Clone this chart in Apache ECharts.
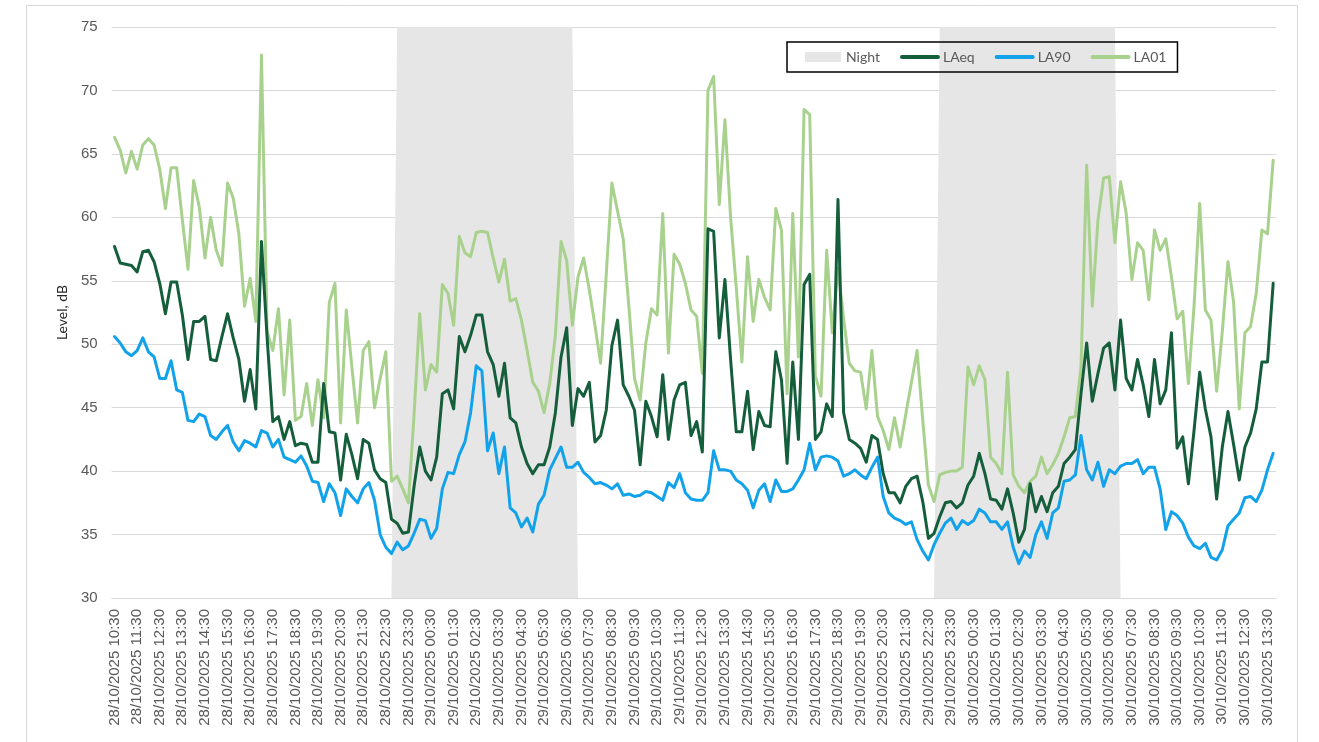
<!DOCTYPE html>
<html>
<head>
    <meta charset="utf-8">
    <title>Noise levels</title>
    <script src="https://cdn.jsdelivr.net/npm/echarts@6/dist/echarts.min.js"></script>
    <style>
      html, body { margin: 0; padding: 0; background: #fff; }
      #main { width: 1319px; height: 742px; }
    </style>
</head>
<body>
    <div id="main"></div>
    <script type="text/javascript">

// 15 minute periods from 28/10/2025 10:30 to 30/10/2025 13:45
let firstDay = 28
let firstMinute = 10 * 60 + 30
let periodCount = 206
let times = []
for (let i = 0; i < periodCount; i++) {
  let m = firstMinute + i * 15
  let day = firstDay + Math.floor(m / 1440)
  let hh = String(Math.floor((m % 1440) / 60)).padStart(2, '0')
  let mm = String(m % 60).padStart(2, '0')
  times.push(day + '/10/2025 ' + hh + ':' + mm)
}

// night periods (first and last 15 minute period of each night)
let nightPeriods = [
  ['28/10/2025 23:00', '29/10/2025 06:45'],
  ['29/10/2025 23:00', '30/10/2025 06:45']
]

let LAeq = [
  57.7, 56.4, 56.3, 56.2, 55.7, 57.3, 57.4, 56.5, 54.8, 52.4,
  54.9, 54.9, 52.3, 48.8, 51.8, 51.8, 52.2, 48.8, 48.7, 50.6,
  52.4, 50.5, 48.8, 45.5, 48.0, 44.9, 58.1, 50.5, 43.9, 44.3,
  42.5, 43.9, 42.0, 42.2, 42.1, 40.7, 40.7, 46.9, 43.1, 43.0,
  39.3, 42.9, 41.3, 39.4, 42.5, 42.2, 40.1, 39.4, 39.1, 36.2,
  35.9, 35.1, 35.2, 38.8, 41.9, 40.0, 39.3, 41.1, 46.1, 46.4,
  44.9, 50.6, 49.4, 50.7, 52.3, 52.3, 49.4, 48.4, 45.9, 48.5,
  44.2, 43.8, 41.9, 40.6, 39.8, 40.5, 40.5, 41.9, 44.6, 49.0,
  51.3, 43.6, 46.5, 45.9, 47.0, 42.3, 42.8, 44.8, 49.9, 51.9,
  46.8, 45.9, 44.8, 40.5, 45.5, 44.3, 42.7, 47.6, 42.5, 45.6,
  46.8, 47.0, 42.8, 43.9, 41.5, 59.1, 58.9, 50.5, 55.1, 48.8,
  43.1, 43.1, 46.3, 41.7, 44.7, 43.6, 43.5, 49.4, 47.2, 40.6,
  48.6, 42.5, 54.7, 55.5, 42.5, 43.1, 45.3, 44.3, 61.4, 44.6,
  42.5, 42.2, 41.8, 40.7, 42.8, 42.5, 39.8, 38.3, 38.3, 37.5,
  38.8, 39.4, 39.6, 37.6, 34.7, 35.1, 36.4, 37.5, 37.6, 37.1,
  37.5, 38.9, 39.6, 41.4, 39.8, 37.8, 37.7, 37.0, 38.6, 36.7,
  34.4, 35.4, 39.0, 36.8, 38.0, 36.8, 38.3, 38.8, 40.6, 41.1,
  41.7, 46.1, 50.1, 45.5, 47.7, 49.7, 50.1, 46.4, 51.9, 47.3,
  46.4, 48.8, 46.8, 44.3, 48.8, 45.3, 46.4, 50.9, 41.8, 42.7,
  39.0, 43.2, 47.8, 44.9, 42.7, 37.8, 41.9, 44.7, 42.1, 39.3,
  41.9, 43.0, 44.9, 48.6, 48.6, 54.8
]

let LA90 = [
  50.6, 50.1, 49.4, 49.1, 49.5, 50.5, 49.4, 49.0, 47.3, 47.3,
  48.7, 46.4, 46.2, 44.0, 43.9, 44.5, 44.3, 42.8, 42.5, 43.1,
  43.6, 42.3, 41.6, 42.4, 42.2, 41.9, 43.2, 43.0, 41.9, 42.5,
  41.1, 40.9, 40.7, 41.2, 40.4, 39.2, 39.1, 37.6, 39.0, 38.3,
  36.5, 38.6, 38.0, 37.5, 38.6, 39.1, 37.7, 35.0, 34.0, 33.5,
  34.4, 33.8, 34.1, 35.1, 36.2, 36.1, 34.7, 35.5, 38.6, 39.9,
  39.8, 41.3, 42.3, 44.6, 48.3, 47.9, 41.6, 43.0, 39.8, 41.9,
  37.1, 36.7, 35.6, 36.3, 35.2, 37.4, 38.1, 40.1, 41.0, 41.9,
  40.3, 40.3, 40.7, 39.9, 39.5, 39.0, 39.1, 38.9, 38.6, 39.0,
  38.1, 38.2, 38.0, 38.1, 38.4, 38.3, 38.0, 37.7, 39.1, 38.7,
  39.8, 38.3, 37.8, 37.7, 37.7, 38.3, 41.6, 40.1, 40.1, 40.0,
  39.3, 39.0, 38.5, 37.1, 38.5, 39.0, 37.6, 39.3, 38.4, 38.4,
  38.6, 39.3, 40.1, 42.2, 40.1, 41.1, 41.2, 41.1, 40.8, 39.6,
  39.8, 40.1, 39.7, 39.4, 40.3, 41.1, 38.0, 36.7, 36.3, 36.1,
  35.8, 36.0, 34.6, 33.7, 33.0, 34.2, 35.1, 35.9, 36.3, 35.4,
  36.1, 35.8, 36.1, 37.0, 36.7, 36.0, 36.0, 35.4, 36.0, 34.0,
  32.7, 33.7, 33.2, 35.0, 36.0, 34.7, 36.7, 37.1, 39.2, 39.3,
  39.7, 42.8, 40.1, 39.3, 40.7, 38.8, 40.1, 39.8, 40.4, 40.6,
  40.6, 40.9, 39.8, 40.3, 40.3, 38.6, 35.4, 36.8, 36.5, 35.9,
  34.8, 34.1, 33.9, 34.3, 33.2, 33.0, 33.8, 35.7, 36.2, 36.7,
  37.9, 38.0, 37.6, 38.5, 40.1, 41.4
]

let LA01 = [
  66.3, 65.3, 63.5, 65.2, 63.8, 65.7, 66.2, 65.7, 63.8, 60.7,
  63.9, 63.9, 59.8, 55.9, 62.9, 60.8, 56.8, 60.0, 57.4, 56.2,
  62.7, 61.5, 58.7, 53.0, 55.2, 51.8, 72.8, 51.0, 49.5, 52.8,
  46.0, 51.9, 44.0, 44.3, 46.9, 43.6, 47.2, 44.2, 53.3, 54.8,
  43.8, 52.7, 48.2, 43.8, 49.5, 50.2, 45.0, 47.3, 49.4, 39.2,
  39.6, 38.6, 37.5, 44.5, 52.4, 46.4, 48.4, 47.8, 54.7, 54.0,
  51.5, 58.5, 57.2, 56.9, 58.8, 58.9, 58.8, 56.8, 54.9, 56.7,
  53.4, 53.6, 51.9, 49.5, 47.0, 46.3, 44.6, 46.9, 50.7, 58.1,
  56.6, 51.5, 55.3, 56.8, 54.3, 51.5, 48.5, 55.5, 62.7, 60.5,
  58.3, 53.0, 47.3, 45.6, 50.1, 52.8, 52.3, 60.3, 49.3, 57.1,
  56.3, 54.8, 52.7, 52.2, 47.7, 70.0, 71.1, 61.0, 67.7, 60.0,
  54.5, 48.6, 56.9, 51.8, 55.1, 53.7, 52.7, 60.7, 59.0, 46.1,
  60.3, 49.0, 68.5, 68.1, 47.5, 45.9, 57.4, 50.9, 56.0, 52.0,
  48.5, 47.9, 47.8, 44.9, 49.5, 44.3, 43.2, 41.7, 44.2, 41.9,
  44.5, 47.0, 49.5, 44.0, 38.9, 37.6, 39.7, 39.9, 40.0, 40.0,
  40.3, 48.2, 46.8, 48.3, 47.2, 41.1, 40.6, 39.8, 47.8, 39.7,
  38.8, 38.3, 39.2, 39.6, 41.1, 39.8, 40.5, 41.4, 42.7, 44.2,
  44.3, 48.2, 64.1, 53.0, 59.8, 63.1, 63.2, 58.0, 62.8, 60.3,
  55.1, 58.0, 57.4, 53.5, 59.0, 57.4, 58.3, 55.3, 52.0, 52.6,
  46.9, 53.0, 61.1, 52.7, 51.9, 46.3, 51.0, 56.5, 53.3, 44.9,
  50.9, 51.4, 54.0, 59.0, 58.7, 64.5
]

let yMin = 30
let yMax = 75

// night band: full height inside the night periods, axis floor outside
let night = times.map(t => yMin)
nightPeriods.forEach(p => {
  let a = times.indexOf(p[0]), b = times.indexOf(p[1])
  for (let i = a; i <= b; i++) night[i] = yMax
})

let lineSeries = (name, data, color) => ({
  name: name,
  type: 'line',
  data: data,
  symbol: 'none',
  itemStyle: { color: color },
  lineStyle: { color: color, width: 3, join: 'round', cap: 'round' }
})

// legend entry for a line: only the stroke, no marker
let lineKey = name => ({
  name: name,
  itemStyle: { opacity: 0 },
  lineStyle: { width: 4, cap: 'round' }
})

var option = {
  animation: false,
  backgroundColor: '#fff',
  graphic: [{
    type: 'rect',
    silent: true,
    shape: { x: 26.5, y: 5.5, width: 1271, height: 745 },
    style: { fill: 'none', stroke: '#d9d9d9', lineWidth: 1 }
  }],
  legend: {
    left: 787,
    top: 42,
    data: [{ name: 'Night', icon: 'rect' }, lineKey('LAeq'), lineKey('LA90'), lineKey('LA01')],
    itemWidth: 36,
    itemHeight: 10,
    itemGap: 20,
    padding: [8, 11, 8, 18],
    borderColor: '#000',
    borderWidth: 1.5,
    textStyle: { fontSize: 14, color: '#595959', fontFamily: 'Lato' }
  },
  grid: { left: 111.7, right: 43, top: 27, bottom: 144, containLabel: false },
  xAxis: {
    type: 'category',
    data: times,
    boundaryGap: true,
    axisLine: { lineStyle: { color: '#d9d9d9', width: 1 } },
    axisTick: { show: false },
    axisLabel: {
      interval: 3,
      rotate: 90,
      margin: 11,
      fontSize: 15,
      color: '#595959',
      fontFamily: 'Liberation Sans'
    },
    splitLine: { show: false }
  },
  yAxis: {
    type: 'value',
    min: yMin,
    max: yMax,
    interval: 5,
    name: 'Level, dB',
    nameLocation: 'middle',
    nameGap: 42,
    nameTextStyle: { fontSize: 14, color: '#262626', fontFamily: 'Lato' },
    axisLine: { show: false },
    axisTick: { show: false },
    axisLabel: { fontSize: 15, color: '#595959', margin: 14, fontFamily: 'Liberation Sans' },
    splitLine: { lineStyle: { color: '#d9d9d9', width: 1 } }
  },
  series: [
    {
      name: 'Night',
      type: 'line',
      data: night,
      symbol: 'none',
      itemStyle: { color: '#e7e6e6' },
      lineStyle: { width: 0 },
      areaStyle: { color: '#e7e6e6', opacity: 1 }
    },
    lineSeries('LA01', LA01, '#a9d18e'),
    lineSeries('LAeq', LAeq, '#155e3c'),
    lineSeries('LA90', LA90, '#12a2ea')
  ]
}

echarts.init(document.getElementById('main')).setOption(option)

    </script>
</body>
</html>
